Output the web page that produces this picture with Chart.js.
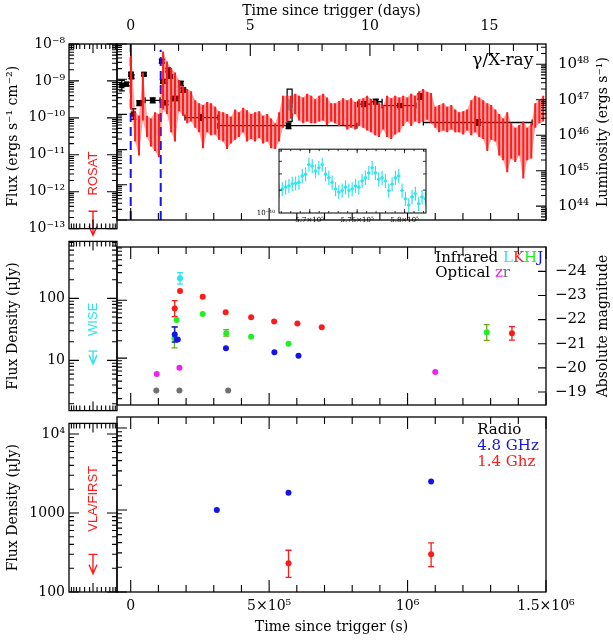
<!DOCTYPE html>
<html>
<head>
<meta charset="utf-8">
<script src="https://cdn.jsdelivr.net/npm/chart.js@4.4.1/dist/chart.umd.min.js"></script>
<style>
  html, body { margin: 0; padding: 0; background: #fff; }
  #fig { position: relative; width: 613px; height: 640px; overflow: hidden; }
  #fig canvas { position: absolute; }
</style>
</head>
<body>
<div id="fig">
  <canvas id="leftA" width="123" height="241" style="left:0;top:0"></canvas>
  <canvas id="mainA" width="502" height="241" style="left:111px;top:0"></canvas>
  <canvas id="inset" width="182" height="89" style="left:250px;top:141px"></canvas>
  <canvas id="leftB" width="123" height="194" style="left:0;top:229px"></canvas>
  <canvas id="mainB" width="502" height="194" style="left:111px;top:229px"></canvas>
  <canvas id="leftC" width="123" height="229" style="left:0;top:411px"></canvas>
  <canvas id="mainC" width="502" height="229" style="left:111px;top:411px"></canvas>
</div>
<script>
// ── Data ─────────────────────────────────────────────────────────────

// X-ray light curve (red bars): time in ks, log10 flux bounds
const xrtT  = [1, 16, 30, 44, 59, 73, 88, 102, 117, 131, 146, 160, 175, 189, 204, 218, 233, 247, 261, 276,
               290, 305, 319, 334, 348, 362, 377, 391, 406, 420, 435, 449, 464, 478, 493, 507, 522, 536, 550, 565,
               579, 594, 608, 623, 637, 652, 666, 681, 695, 709, 724, 738, 753, 767, 782, 796, 811, 825, 840, 854,
               868, 883, 897, 912, 926, 941, 955, 970, 984, 999, 1013, 1027, 1042, 1056, 1071, 1085, 1100, 1114, 1129, 1143,
               1158, 1172, 1186, 1201, 1215, 1230, 1244, 1259, 1273, 1288, 1302, 1317, 1331, 1345, 1360, 1374, 1389, 1403, 1418, 1432,
               1447, 1461, 1476, 1490];
const xrtHi = [-8.16, -9.94, -10.04, -8.81, -10.04, -10.12, -9.94, -9.99, -8.21, -8.50, -8.68, -8.81, -9.02, -9.20, -9.28, -9.34, -9.60, -9.68, -9.73, -9.65,
               -9.68, -9.78, -9.91, -9.94, -9.99, -10.07, -9.86, -9.94, -9.81, -9.88, -9.99, -9.94, -9.91, -10.04, -9.99, -10.12, -10.25, -9.94, -9.47, -9.47,
               -9.47, -9.41, -9.47, -9.52, -9.41, -9.47, -9.57, -9.47, -9.41, -9.52, -9.68, -9.68, -9.62, -9.54, -9.60, -9.54, -9.65, -9.57, -9.54, -9.47,
               -9.57, -9.60, -9.68, -9.73, -9.47, -9.54, -9.47, -9.52, -9.47, -9.52, -9.41, -9.47, -9.34, -9.28, -9.36, -9.39, -9.78, -9.73, -9.68, -9.78,
               -9.73, -9.86, -9.94, -9.91, -9.86, -9.60, -9.47, -9.52, -9.60, -9.68, -9.73, -9.86, -9.99, -10.12, -9.94, -10.25, -10.38, -10.30, -10.20, -10.38,
               -10.25, -9.68, -9.60, -9.47];
const xrtLo = [-9.86, -10.77, -11.17, -10.17, -10.64, -10.91, -11.04, -11.22, -9.86, -9.99, -10.51, -10.77, -9.91, -10.04, -10.25, -10.20, -10.38, -10.51, -10.96, -10.51,
               -10.59, -10.57, -10.72, -10.77, -10.98, -10.83, -10.72, -10.64, -10.51, -10.77, -10.70, -10.77, -10.67, -10.83, -10.77, -10.96, -10.98, -10.77, -10.38, -10.20,
               -10.12, -9.99, -10.17, -10.25, -10.20, -10.25, -10.25, -10.20, -10.17, -10.30, -10.20, -10.25, -10.33, -10.30, -10.43, -10.38, -10.43, -10.33, -10.38, -10.46,
               -10.51, -10.59, -10.64, -10.43, -10.64, -10.70, -10.57, -10.51, -10.33, -10.20, -10.33, -10.20, -10.25, -10.20, -10.15, -10.25, -10.38, -10.51, -10.46, -10.51,
               -10.43, -10.51, -10.51, -10.57, -10.46, -10.59, -10.51, -10.64, -10.70, -11.04, -10.72, -10.77, -11.17, -11.30, -11.64, -11.25, -11.35, -11.17, -11.82, -11.30,
               -11.25, -10.38, -10.25, -10.20];

// binned gamma/X-ray points (black): time in ks, log10 flux, x range in ks, log10 error
const binT      = [-32, -15, 1, 3, 9.5, 31, 48, 79.5, 112, 116, 126, 136, 139, 143, 160, 181, 190, 254, 570, 843, 885, 972, 1046, 1254];
const binLogF   = [-9.18, -9.14, -8.86, -8.93, -9.99, -9.68, -8.86, -9.60, -8.49, -9.06, -9.67, -8.74, -8.83, -8.92, -9.55, -9.12, -9.31, -10.09, -10.32, -9.71, -9.64, -9.75, -9.49, -10.23];
const binTlo    = [null, null, null, null, null, 24, null, 52, null, null, null, null, null, null, 150, null, null, 196, 315, 820, 866, 908, null, 1057];
const binThi    = [null, null, null, null, null, 39, null, 106, null, null, null, null, null, null, 172, null, null, 315, 817, 866, 908, 1030, null, 1450];
const binLogErr = [0.15, 0.05, 0.05, 0.05, 0.15, 0.07, 0.04, 0.07, 0.05, 0.05, 0.05, 0.05, 0.05, 0.05, 0.06, 0.06, 0.06, 0.08, 0.08, 0.07, 0.07, 0.05, 0.08, 0.08];

// zoomed segment (cyan): time in s, flux in 1e-10 erg/s/cm2
const zoomT = [566755, 567106, 567457, 567808, 568158, 568509, 568860, 569211, 569562, 569913, 570264, 570615, 570966, 571317, 571667,
               572018, 572369, 572720, 573071, 573422, 573773, 574124, 574475, 574826, 575176, 575527, 575878, 576229, 576580, 576931,
               577282, 577633, 577984, 578335, 578685, 579036, 579387, 579738, 580089, 580440, 580791, 581142, 581493, 581844, 582195];
const zoomF = [1.49, 1.53, 1.58, 1.62, 1.68, 1.69, 1.72, 1.93, 1.99, 2.36, 2.30, 2.10, 2.23, 2.36, 1.99,
               1.87, 1.72, 1.53, 1.45, 1.49, 1.58, 1.49, 1.53, 1.62, 1.58, 1.77, 1.87, 2.04, 2.23, 2.04,
               1.82, 1.87, 1.77, 1.49, 1.67, 1.87, 1.93, 1.49, 1.29, 1.15, 1.33, 1.41, 1.18, 1.33, 1.29];

// infrared / optical (uJy), time in ks
const lbandT = [178];          const lbandF = [240];  const lbandErr = [[190, 300]];
const kbandT = [159, 178, 260, 343, 435, 518, 602, 690, 1377];
const kbandF = [72, 144, 115, 62, 51, 43, 39.5, 34, 27];
const kbandErr = [[52, 98], null, null, null, null, null, null, null, [20.5, 35]];
const hbandT = [158, 166, 260, 345, 435, 570, 1286];
const hbandF = [22, 45.5, 58, 27, 23.5, 17.7, 28];
const hbandErr = [[15, 35], null, null, [24, 31], null, null, [20.3, 38]];
const jbandT = [159, 170, 344, 519, 606];
const jbandF = [25.6, 21, 14.8, 12.6, 11];
const jbandErr = [[19, 34.5], null, null, null, null];
const zbandT = [94, 176, 1100];   const zbandF = [5.3, 6.8, 5.75];
const rbandT = [92.5, 176, 352];  const rbandF = [2.76, 2.76, 2.76];

// radio (uJy), time in ks
const radio48T = [311, 570, 1085];  const radio48F = [1000, 1620, 2230];
const radio14T = [570, 1085];       const radio14F = [224, 288];
const radio14Err = [[151, 323], [204, 398]];

// pre-trigger upper limits: [bar level, arrow tip]
const rosatLim = [2.95e-13, 6.6e-14];
const wiseLim  = [14.1, 8.7];
const firstLim = [299, 170];

// tick values
const secMajor  = [0, 5e5, 1e6, 1.5e6];
const secLabels = ['0', '5×10⁵', '10⁶', '1.5×10⁶'];
const dayMajor  = [0, 5, 10, 15];
const magMajor  = [-24, -23, -22, -21, -20, -19];
const zoomMajor = [5.7e5, 5.75e5, 5.8e5];
const zoomLabels = ['5.7×10⁵', '5.75×10⁵', '5.8×10⁵'];
const preMinor  = [-0.9, -0.8, -0.69, -0.55, -0.35, -0.14, 0.17, 0.35, 0.53, 0.7, 0.83, 0.93];

// ── Colours ──────────────────────────────────────────────────────────
const RED = '#ff1a1a', GREEN = '#22ee22', BLUE = '#1414e6', CYAN = '#30e3ec', MAG = '#ee22ee', GREY = '#707070';

// ── Helpers ──────────────────────────────────────────────────────────
const SUP = { '0': '⁰', '1': '¹', '2': '²', '3': '³', '4': '⁴', '5': '⁵', '6': '⁶', '7': '⁷', '8': '⁸', '9': '⁹', '-': '⁻' };
const sup = n => String(n).split('').map(c => SUP[c] || c).join('');
const pow10Label = v => '10' + sup(Math.round(Math.log10(v)));
const el = id => document.getElementById(id);

function logTicks(e0, e1) {
  const major = [], minor = [];
  for (let e = e0; e <= e1; e++) {
    major.push(Math.pow(10, e));
    for (let m = 2; m < 10; m++) minor.push(m * Math.pow(10, e));
  }
  return { major, minor };
}
function linTicks(a, b, step) {
  const out = [];
  for (let v = a; v <= b + step * 1e-6; v += step) out.push(+v.toFixed(6));
  return out;
}
const noGrid = { display: false, drawTicks: false };
const noBorder = { display: false };
const fixed = (prop, n) => s => { s[prop] = n; };
const setTicks = vals => s => { s.ticks = vals.map(v => ({ value: v })); };

Chart.defaults.font.family = "'DejaVu Serif', serif";
Chart.defaults.color = '#000';
Chart.defaults.animation = false;
Chart.defaults.events = [];
Chart.defaults.plugins.legend.display = false;
Chart.defaults.plugins.tooltip.enabled = false;

// ── Plugin: error bars, frame ticks, labels, limits ─────────────────
const specs = {};

function drawTickSet(chart, t) {
  const { ctx, chartArea: ca } = chart;
  const sc = chart.scales[t.scale];
  const put = (v, len) => {
    const p = sc.getPixelForValue(v);
    if (!isFinite(p)) return;
    if (t.side === 'left' || t.side === 'right') {
      if (p < ca.top - 0.5 || p > ca.bottom + 0.5) return;
      const x0 = t.side === 'left' ? ca.left : ca.right;
      ctx.moveTo(x0, p); ctx.lineTo(x0 + (t.side === 'left' ? len : -len), p);
    } else {
      if (p < ca.left - 0.5 || p > ca.right + 0.5) return;
      const y0 = t.side === 'top' ? ca.top : ca.bottom;
      ctx.moveTo(p, y0); ctx.lineTo(p, y0 + (t.side === 'top' ? len : -len));
    }
  };
  ctx.beginPath();
  (t.minor || []).forEach(v => put(v, t.lmin));
  (t.major || []).forEach(v => put(v, t.lmaj));
  ctx.stroke();
}

const panelPlugin = {
  id: 'panel',
  beforeDraw(chart) {
    const sp = specs[chart.canvas.id];
    if (!sp || !sp.fill) return;
    const { ctx, chartArea: ca } = chart;
    ctx.save();
    ctx.fillStyle = sp.fill;
    ctx.fillRect(ca.left, ca.top, ca.right - ca.left, ca.bottom - ca.top);
    ctx.restore();
  },
  beforeDatasetDraw(chart, args) {
    const ds = chart.data.datasets[args.index];
    if (!ds.errY && !ds.errX) return;
    const { ctx, chartArea: ca } = chart;
    const xs = chart.scales[ds.xAxisID || 'x'], ys = chart.scales[ds.yAxisID || 'y'];
    const cap = ds.errCap == null ? 3 : ds.errCap;
    ctx.save();
    ctx.beginPath();
    ctx.rect(ca.left, ca.top, ca.right - ca.left, ca.bottom - ca.top);
    ctx.clip();
    ctx.strokeStyle = ds.errColor || ds.borderColor;
    ctx.lineWidth = ds.errWidth || 1.2;
    ctx.beginPath();
    ds.data.forEach((d, i) => {
      const px = xs.getPixelForValue(d.x), py = ys.getPixelForValue(d.y);
      const ey = ds.errY && ds.errY[i], ex = ds.errX && ds.errX[i];
      if (ey) {
        const y1 = ys.getPixelForValue(ey[0]), y2 = ys.getPixelForValue(ey[1]);
        ctx.moveTo(px, y1); ctx.lineTo(px, y2);
        if (cap) {
          ctx.moveTo(px - cap, y1); ctx.lineTo(px + cap, y1);
          ctx.moveTo(px - cap, y2); ctx.lineTo(px + cap, y2);
        }
      }
      if (ex) {
        const x1 = xs.getPixelForValue(ex[0]), x2 = xs.getPixelForValue(ex[1]);
        ctx.moveTo(x1, py); ctx.lineTo(x2, py);
        if (cap) {
          ctx.moveTo(x1, py - cap); ctx.lineTo(x1, py + cap);
          ctx.moveTo(x2, py - cap); ctx.lineTo(x2, py + cap);
        }
      }
    });
    ctx.stroke();
    ctx.restore();
  },
  afterDraw(chart) {
    const sp = specs[chart.canvas.id];
    if (!sp) return;
    const { ctx, chartArea: ca } = chart;
    ctx.save();

    // upper-limit arrows
    (sp.limits || []).forEach(l => {
      const px = chart.scales.x.getPixelForValue(0);
      const y1 = chart.scales.y.getPixelForValue(l.v[0]), y2 = chart.scales.y.getPixelForValue(l.v[1]);
      ctx.strokeStyle = l.color; ctx.lineWidth = 1.4;
      ctx.beginPath();
      ctx.moveTo(px - 4.5, y1); ctx.lineTo(px + 4.5, y1);
      ctx.moveTo(px, y1); ctx.lineTo(px, y2);
      ctx.moveTo(px - 4, y2 - 9); ctx.lineTo(px, y2); ctx.lineTo(px + 4, y2 - 9);
      ctx.stroke();
    });

    // texts anchored in data space
    (sp.texts || []).forEach(t => {
      const px = chart.scales[t.xs || 'x'].getPixelForValue(t.x);
      const py = chart.scales[t.ys || 'y'].getPixelForValue(t.y);
      ctx.save();
      ctx.font = t.font;
      ctx.textBaseline = 'middle';
      ctx.textAlign = 'left';
      ctx.translate(px, py);
      if (t.rot) ctx.rotate(t.rot);
      const total = t.parts.reduce((s, p) => s + ctx.measureText(p[0]).width, 0);
      let cx = t.align === 'right' ? -total : t.align === 'center' ? -total / 2 : 0;
      t.parts.forEach(([s, c]) => { ctx.fillStyle = c; ctx.fillText(s, cx, 0); cx += ctx.measureText(s).width; });
      ctx.restore();
    });

    // right-hand axis title, read bottom to top
    if (sp.rightTitle) {
      ctx.save();
      ctx.font = "14px 'DejaVu Serif'";
      ctx.fillStyle = '#000';
      ctx.textAlign = 'center'; ctx.textBaseline = 'middle';
      ctx.translate(chart.width - 10, (ca.top + ca.bottom) / 2);
      ctx.rotate(-Math.PI / 2);
      ctx.fillText(sp.rightTitle, 0, 0);
      ctx.restore();
    }

    // frame and inward ticks
    ctx.strokeStyle = '#000';
    ctx.lineWidth = sp.frameWidth || 1.3;
    ctx.strokeRect(ca.left, ca.top, ca.right - ca.left, ca.bottom - ca.top);
    ctx.lineWidth = sp.tickWidth || 1.1;
    (sp.ticks || []).forEach(t => drawTickSet(chart, t));
    ctx.restore();
  }
};

// ── Tick sets ────────────────────────────────────────────────────────
const fluxA = logTicks(-13, -8);
const lumA  = logTicks(43, 48);
const fluxB = logTicks(0, 2);
const fluxC = logTicks(2, 4);
const secMinor = linTicks(0, 1.5e6, 1e5);
const dayMinor = linTicks(0, 17, 1);
const secTicks = side => ({ side, scale: 'x', major: secMajor, minor: secMinor, lmaj: 12, lmin: 7 });
const preTicks = side => ({ side, scale: 'x', major: [0], minor: preMinor, lmaj: 9, lmin: 5 });
const yTicks = (side, set, scale) => ({ side, scale: scale || 'y', major: set.major, minor: set.minor, lmaj: 10, lmin: 5 });

// ── Pre-trigger column (left) ────────────────────────────────────────
function leftPanel(id, o) {
  specs[id] = {
    ticks: [preTicks('top'), preTicks('bottom'), yTicks('left', o.set), yTicks('right', o.set)],
    limits: [{ v: o.limit, color: o.color }],
    texts: [{ parts: [[o.name, o.color]], x: 0, y: o.nameAt, rot: -Math.PI / 2, align: 'center',
              font: "13px 'Liberation Sans', sans-serif" }]
  };
  return new Chart(el(id), {
    type: 'scatter',
    data: { datasets: [] },
    options: {
      responsive: false,
      layout: { padding: o.pad },
      scales: {
        x: { type: 'linear', min: -1, max: 1, display: false },
        y: {
          type: 'logarithmic', min: o.min, max: o.max, grid: noGrid, border: noBorder,
          afterFit: fixed('width', 69),
          afterBuildTicks: setTicks(o.labelVals),
          ticks: { padding: 4, font: { size: 14 }, callback: o.fmt },
          title: { display: true, text: o.title, font: { size: 14 }, padding: { top: 5, bottom: 0 } }
        }
      }
    },
    plugins: [panelPlugin]
  });
}

leftPanel('leftA', {
  min: 1e-13, max: 1e-8, set: fluxA, labelVals: fluxA.major, fmt: pow10Label,
  title: 'Flux (ergs s⁻¹ cm⁻²)', pad: { top: 44, right: 6, bottom: 6 },
  limit: rosatLim, color: RED, name: 'ROSAT', nameAt: 3.1e-12
});
leftPanel('leftB', {
  min: 1.55, max: 830, set: fluxB, labelVals: [10, 100], fmt: v => String(v),
  title: 'Flux Density (μJy)', pad: { top: 6, right: 6, bottom: 6 },
  limit: wiseLim, color: CYAN, name: 'WISE', nameAt: 46
});
leftPanel('leftC', {
  min: 100, max: 13600, set: fluxC, labelVals: [100, 1000, 10000],
  fmt: v => (v >= 10000 ? pow10Label(v) : String(v)),
  title: 'Flux Density (μJy)', pad: { top: 6, right: 6, bottom: 48 },
  limit: firstLim, color: RED, name: 'VLA/FIRST', nameAt: 1510
});

// ── Top panel: gamma / X-ray ────────────────────────────────────────
const pts = (ts, fs, k) => ts.map((t, i) => ({ x: t * (k || 1), y: fs[i] }));

specs.mainA = {
  ticks: [
    { side: 'top', scale: 'xd', major: dayMajor, minor: dayMinor, lmaj: 12, lmin: 7 },
    secTicks('bottom'), yTicks('left', fluxA), yTicks('right', lumA, 'yL')
  ],
  texts: [{ parts: [['γ/X-ray', '#000']], x: 1.454e6, y: Math.pow(10, -8.47), align: 'right', font: "17px 'DejaVu Serif'" }],
  rightTitle: 'Luminosity (ergs s⁻¹)'
};

new Chart(el('mainA'), {
  type: 'scatter',
  data: {
    datasets: [
      {
        // band between the upper and lower envelopes
        data: xrtT.map((t, i) => ({ x: t * 1e3, y: Math.pow(10, xrtHi[i]) })),
        showLine: true, borderWidth: 0, pointRadius: 0, fill: '+1',
        backgroundColor: 'rgba(255,30,30,0.42)'
      },
      {
        data: xrtT.map((t, i) => ({ x: t * 1e3, y: Math.pow(10, xrtLo[i]) })),
        showLine: true, borderWidth: 0, pointRadius: 0
      },
      {
        // one error bar per read column
        data: xrtT.map((t, i) => ({ x: t * 1e3, y: Math.pow(10, xrtHi[i]) })),
        errY: xrtT.map((t, i) => [Math.pow(10, xrtLo[i]), Math.pow(10, xrtHi[i])]),
        errCap: 0, errWidth: 2, borderColor: RED, pointRadius: 0
      },
      {
        data: [{ x: 0, y: 1e-13 }, { x: 0, y: 1e-8 }],
        showLine: true, borderColor: BLUE, borderWidth: 2, borderDash: [9, 5], pointRadius: 0
      },
      {
        data: [{ x: 108.4e3, y: 1e-13 }, { x: 108.4e3, y: Math.pow(10, -8.16) }],
        showLine: true, borderColor: BLUE, borderWidth: 2, borderDash: [9, 5], pointRadius: 0
      },
      {
        data: zoomT.map((t, i) => ({ x: t, y: zoomF[i] * 1e-10 })),
        errY: zoomF.map(f => [f * 0.85e-10, f * 1.18e-10]),
        errCap: 0, errWidth: 1, borderColor: CYAN, backgroundColor: CYAN, pointRadius: 1
      },
      {
        data: [{ x: 565e3, y: 6.3e-11 }, { x: 565e3, y: 5.2e-10 }, { x: 583e3, y: 5.2e-10 }, { x: 583e3, y: 6.3e-11 }, { x: 565e3, y: 6.3e-11 }],
        showLine: true, borderColor: '#000', borderWidth: 1.2, pointRadius: 0
      },
      {
        data: binT.map((t, i) => ({ x: t * 1e3, y: Math.pow(10, binLogF[i]) })),
        errY: binLogF.map((f, i) => [Math.pow(10, f - binLogErr[i]), Math.pow(10, f + binLogErr[i])]),
        errX: binT.map((t, i) => (binTlo[i] == null ? null : [binTlo[i] * 1e3, binThi[i] * 1e3])),
        errCap: 3, errWidth: 1.3, borderColor: '#000', backgroundColor: '#000',
        pointStyle: 'rect', pointRadius: 3.8, borderWidth: 0
      }
    ]
  },
  options: {
    responsive: false,
    layout: { padding: { left: 6, bottom: 6 } },
    scales: {
      x: { type: 'linear', min: -49.5e3, max: 1.5e6, display: false },
      xd: {
        type: 'linear', position: 'top', min: -49.5e3 / 86400, max: 1.5e6 / 86400,
        grid: noGrid, border: noBorder, afterFit: fixed('height', 44),
        afterBuildTicks: setTicks(dayMajor),
        ticks: { padding: 9, font: { size: 14 }, maxRotation: 0, autoSkip: false },
        title: { display: true, text: 'Time since trigger (days)', font: { size: 14 }, padding: { top: 3, bottom: 0 } }
      },
      y: { type: 'logarithmic', min: 1e-13, max: 1e-8, display: false },
      yL: {
        type: 'logarithmic', position: 'right', min: Math.pow(10, 43.61), max: Math.pow(10, 48.57),
        grid: noGrid, border: noBorder, afterFit: fixed('width', 67),
        afterBuildTicks: setTicks(lumA.major.slice(1)),
        ticks: { padding: 12, font: { size: 15 }, callback: pow10Label }
      }
    }
  },
  plugins: [panelPlugin]
});

// ── Inset: zoom on the cyan segment ─────────────────────────────────
specs.inset = {
  fill: '#fff', frameWidth: 1, tickWidth: 0.8,
  ticks: [
    { side: 'bottom', scale: 'x', major: zoomMajor, minor: linTicks(567e3, 582e3, 1e3), lmaj: 4, lmin: 2 },
    { side: 'top', scale: 'x', major: zoomMajor, minor: linTicks(567e3, 582e3, 1e3), lmaj: 4, lmin: 2 },
    { side: 'left', scale: 'y', major: [], minor: [1.5e-10, 2e-10, 2.5e-10, 3e-10], lmaj: 4, lmin: 3 },
    { side: 'right', scale: 'y', major: [], minor: [1.5e-10, 2e-10, 2.5e-10, 3e-10], lmaj: 4, lmin: 3 }
  ]
};
new Chart(el('inset'), {
  type: 'scatter',
  data: {
    datasets: [{
      data: zoomT.map((t, i) => ({ x: t, y: zoomF[i] * 1e-10 })),
      errY: zoomF.map(f => [f * 0.88e-10, f * 1.13e-10]),
      errX: zoomT.map(t => [t - 180, t + 180]),
      errCap: 0, errWidth: 1.2, borderColor: CYAN, backgroundColor: CYAN, pointRadius: 1.6, borderWidth: 0
    }]
  },
  options: {
    responsive: false,
    layout: { padding: { top: 6, right: 6 } },
    scales: {
      x: {
        type: 'linear', min: 566760, max: 582260, grid: noGrid, border: noBorder,
        afterFit: fixed('height', 17), afterBuildTicks: setTicks(zoomMajor),
        ticks: { padding: 3, font: { size: 7 }, maxRotation: 0, autoSkip: false,
                 callback: v => zoomLabels[zoomMajor.indexOf(v)] }
      },
      y: {
        type: 'logarithmic', min: 1e-10, max: 3.1e-10, grid: noGrid, border: noBorder,
        afterFit: fixed('width', 29), afterBuildTicks: setTicks([1e-10]),
        ticks: { padding: 4, font: { size: 7 }, callback: pow10Label }
      }
    }
  },
  plugins: [panelPlugin]
});

// ── Middle panel: infrared / optical ────────────────────────────────
const band = (ts, fs, errs, color, errColor) => ({
  data: pts(ts, fs, 1e3), errY: errs || null, errCap: 3, errWidth: 1.3,
  borderColor: color, errColor: errColor || color, backgroundColor: color, pointRadius: 3, borderWidth: 0
});

specs.mainB = {
  ticks: [secTicks('top'), secTicks('bottom'), yTicks('left', fluxB),
          { side: 'right', scale: 'yM', major: magMajor, minor: [], lmaj: 8, lmin: 4 }],
  texts: [
    { parts: [['Infrared ', '#000'], ['L', CYAN], ['K', RED], ['H', GREEN], ['J', BLUE]], x: 1.10e6, y: 530, font: "15px 'DejaVu Serif'" },
    { parts: [['Optical ', '#000'], ['z', MAG], ['r', GREY]], x: 1.10e6, y: 294, font: "15px 'DejaVu Serif'" }
  ],
  rightTitle: 'Absolute magnitude'
};

new Chart(el('mainB'), {
  type: 'scatter',
  data: {
    datasets: [
      band(rbandT, rbandF, null, GREY),
      band(zbandT, zbandF, null, MAG),
      band(jbandT, jbandF, jbandErr, BLUE),
      band(hbandT, hbandF, hbandErr, GREEN, '#6fa81a'),
      band(kbandT, kbandF, kbandErr, RED),
      band(lbandT, lbandF, lbandErr, CYAN)
    ]
  },
  options: {
    responsive: false,
    layout: { padding: { left: 6, top: 6, bottom: 6 } },
    scales: {
      x: { type: 'linear', min: -49.5e3, max: 1.5e6, display: false },
      y: { type: 'logarithmic', min: 1.55, max: 830, display: false },
      yM: {
        type: 'linear', position: 'right', min: -25.01, max: -18.46, reverse: true,
        grid: noGrid, border: noBorder, afterFit: fixed('width', 67),
        afterBuildTicks: setTicks(magMajor),
        ticks: { padding: 9, font: { size: 15 }, callback: v => '−' + Math.abs(v) }
      }
    }
  },
  plugins: [panelPlugin]
});

// ── Bottom panel: radio ─────────────────────────────────────────────
specs.mainC = {
  ticks: [secTicks('top'), secTicks('bottom'), yTicks('left', fluxC)],
  texts: [
    { parts: [['Radio', '#000']], x: 1.2515e6, y: 9460, font: "15px 'DejaVu Serif'" },
    { parts: [['4.8 GHz', BLUE]], x: 1.2515e6, y: 6030, font: "15px 'DejaVu Serif'" },
    { parts: [['1.4 Ghz', RED]], x: 1.2515e6, y: 3850, font: "15px 'DejaVu Serif'" }
  ]
};

new Chart(el('mainC'), {
  type: 'scatter',
  data: {
    datasets: [
      band(radio48T, radio48F, null, BLUE),
      band(radio14T, radio14F, radio14Err, RED)
    ]
  },
  options: {
    responsive: false,
    layout: { padding: { left: 6, top: 6, right: 67 } },
    scales: {
      x: {
        type: 'linear', min: -49.5e3, max: 1.5e6, grid: noGrid, border: noBorder,
        afterFit: fixed('height', 48), afterBuildTicks: setTicks(secMajor),
        ticks: { padding: 6, font: { size: 14 }, maxRotation: 0, autoSkip: false,
                 callback: v => secLabels[secMajor.indexOf(v)] },
        title: { display: true, text: 'Time since trigger (s)', font: { size: 14 }, padding: { top: 0, bottom: 4 } }
      },
      y: { type: 'logarithmic', min: 100, max: 13600, display: false }
    }
  },
  plugins: [panelPlugin]
});
</script>
</body>
</html>
